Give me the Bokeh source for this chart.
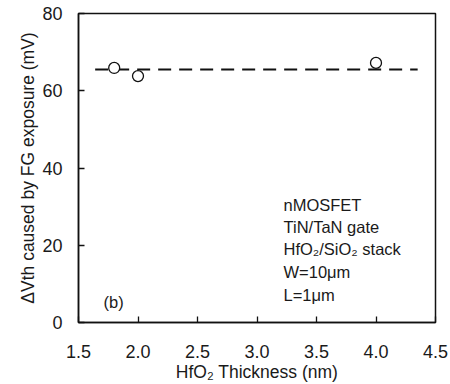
from bokeh.plotting import figure
from bokeh.models import FixedTicker, Label, Range1d, CustomJSTickFormatter
from bokeh.embed import file_html
from bokeh.resources import INLINE

thickness = [1.8, 2.0, 4.0]
delta_vth = [65.9, 63.8, 67.2]
fit_x = [1.64, 4.35]
fit_y = [65.5, 65.5]
x_ticks = [1.5, 2.0, 2.5, 3.0, 3.5, 4.0, 4.5]
y_ticks = [0, 20, 40, 60, 80]
notes = ["nMOSFET", "TiN/TaN gate", "HfO\u2082/SiO\u2082 stack", "W=10\u03bcm", "L=1\u03bcm"]

FONT = "Liberation Sans"
INK = "#1a1a1a"

p = figure(width=450, height=384, output_backend="svg", toolbar_location=None,
           x_range=Range1d(1.5, 4.5), y_range=Range1d(0, 80),
           min_border_left=78, min_border_right=15, min_border_top=13, min_border_bottom=61)
p.background_fill_color = "white"
p.border_fill_color = "white"
p.outline_line_color = "#111111"
p.outline_line_width = 1.5
p.xgrid.visible = False
p.ygrid.visible = False

p.line(fit_x, fit_y, line_color="#111111", line_width=1.8, line_dash="13 8")
p.scatter(thickness, delta_vth, marker="circle", size=11, fill_color="white",
          line_color="#111111", line_width=1.3)

for ax in (p.xaxis[0], p.yaxis[0]):
    ax.axis_line_color = "#111111"
    ax.axis_line_width = 1.5
    ax.major_tick_in = 6
    ax.major_tick_out = 0
    ax.major_tick_line_color = "#111111"
    ax.major_tick_line_width = 1.3
    ax.minor_tick_line_color = None
    ax.major_label_text_font = FONT
    ax.major_label_text_font_size = "18px"
    ax.major_label_text_color = INK
    ax.axis_label_text_font = FONT
    ax.axis_label_text_font_size = "17.5px"
    ax.axis_label_text_font_style = "normal"
    ax.axis_label_text_color = INK

p.xaxis.ticker = FixedTicker(ticks=x_ticks)
p.xaxis.formatter = CustomJSTickFormatter(code="return tick.toFixed(1);")
p.xaxis.major_label_standoff = 22
p.xaxis.axis_label = "HfO\u2082 Thickness (nm)"
p.xaxis.axis_label_standoff = 1

p.yaxis.ticker = FixedTicker(ticks=y_ticks)
p.yaxis.major_label_standoff = 16
p.yaxis.axis_label = "\u0394Vth caused by FG exposure (mV)"
p.yaxis.axis_label_standoff = 1

# frame origin: canvas (78, 323)
ys = [205, 227, 249, 272, 295]
for t, yc in zip(notes, ys):
    p.add_layout(Label(x=283 - 78, y=323 - yc, x_units="screen", y_units="screen", text=t,
                       text_font=FONT, text_font_size="16.5px", text_color=INK,
                       text_baseline="middle"))
p.add_layout(Label(x=103 - 78, y=323 - 302, x_units="screen", y_units="screen", text="(b)",
                   text_font=FONT, text_font_size="16.5px", text_color=INK,
                   text_baseline="middle"))

open("out.html", "w").write(file_html(p, INLINE))
